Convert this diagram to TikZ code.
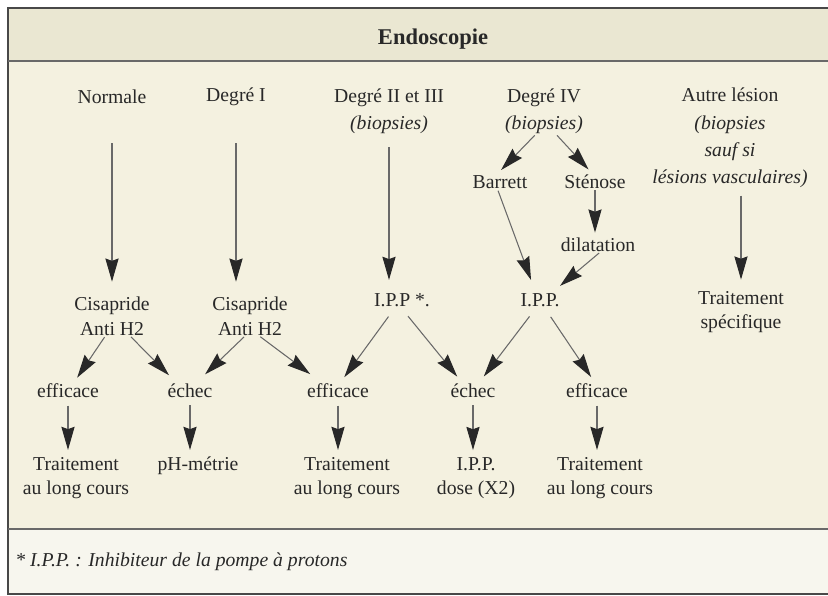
\documentclass[tikz,border=0pt]{standalone}
\usepackage{fontspec}
\setmainfont{Liberation Serif}
\usetikzlibrary{arrows.meta}

\definecolor{papier}{RGB}{244,241,224}
\definecolor{bandeau}{RGB}{234,231,210}
\definecolor{pied}{RGB}{247,246,238}
\definecolor{encre}{RGB}{40,40,40}
\definecolor{gristrait}{RGB}{105,105,105}

\begin{document}
\begin{tikzpicture}[x=0.025cm,y=-0.025cm,
  txt/.style={inner sep=0pt,align=center,text=encre,font=\fontsize{14}{17.5}\selectfont},
  fl/.style={draw=gristrait,line width=0.75pt,-{Stealth[length=0.58cm,width=0.33cm,inset=0.06cm,color=encre]}}]
\useasboundingbox (0,0) rectangle (828,596);
\fill[white] (0,0) rectangle (828,596);
\fill[papier] (8,8) rectangle (828,594);
\fill[bandeau] (8,8) rectangle (828,61);
\fill[pied] (8,529) rectangle (828,594);
\draw[encre!85,line width=1.6pt] (828,8) -- (8,8) -- (8,594) -- (828,594);
\draw[gristrait,line width=1pt] (8,61) -- (828,61);
\draw[gristrait,line width=1pt] (8,529) -- (828,529);
\node[txt,font=\fontsize{16}{19}\selectfont\bfseries] (titre) at (433,39) {Endoscopie};
\node[txt] (normale) at (112,97) {Normale};
\node[txt] (degre1) at (236,97) {Degré I};
\node[txt] (degre23) at (389,111) {Degré II et III\\[2pt] \textit{(biopsies)}};
\node[txt] (degre4) at (544,111) {Degré IV\\[2pt] \textit{(biopsies)}};
\node[txt] (autre) at (730,138) {Autre lésion\\[2pt] \textit{(biopsies}\\[2pt] \textit{sauf si}\\[2pt] \textit{lésions vasculaires)}};
\node[txt] (barrett) at (500,182) {Barrett};
\node[txt] (stenose) at (595,182) {Sténose};
\node[txt] (dilatation) at (598,245) {dilatation};
\node[txt] (cisa1) at (112,316) {Cisapride\\ Anti H2};
\node[txt] (cisa2) at (250,316) {Cisapride\\ Anti H2};
\node[txt] (ippa) at (402,300) {I.P.P *.};
\node[txt] (ippb) at (540,300) {I.P.P.};
\node[txt] (specif) at (741,312) {Traitement\\ spécifique};
\node[txt] (eff1) at (68,391) {efficace};
\node[txt] (ech1) at (190,391) {échec};
\node[txt] (eff2) at (338,391) {efficace};
\node[txt] (ech2) at (473,391) {échec};
\node[txt] (eff3) at (597,391) {efficace};
\node[txt] (trait1) at (76,478) {Traitement\\ au long cours};
\node[txt] (phm) at (198,466) {pH-métrie};
\node[txt] (trait2) at (347,478) {Traitement\\ au long cours};
\node[txt] (dose) at (476,478) {I.P.P.\\ dose (X2)};
\node[txt] (trait3) at (600,478) {Traitement\\ au long cours};
\node[txt,anchor=west,font=\fontsize{14}{17}\selectfont\itshape] (note) at (15,562) {* I.P.P. : Inhibiteur de la pompe à protons};
\draw[fl,shorten <=0.98cm,shorten >=0.37cm] (normale.south) -- (normale.south |- cisa1.north);
\draw[fl,shorten <=0.93cm,shorten >=0.37cm] (degre1.south) -- (degre1.south |- cisa2.north);
\draw[fl,shorten <=0.33cm,shorten >=0.33cm] (degre23.south) -- (degre23.south |- ippa.north);
\draw[fl,shorten <=0.18cm,shorten >=0.28cm] (autre.south -| specif.north) -- (specif.north);
\draw[fl,shorten <=0.05cm,shorten >=0.18cm] (degre4.-109) -- (barrett.120);
\draw[fl,shorten <=0.05cm,shorten >=0.18cm] (degre4.-63) -- (stenose.102);
\draw[fl,shorten <=0.03cm,shorten >=0.13cm] (stenose.south) -- (stenose.south |- dilatation.north);
\draw[fl,shorten <=0.05cm,shorten >=0.35cm] (barrett.-111) -- (ippb.121);
\draw[fl,shorten <=0.03cm,shorten >=0.28cm] (dilatation.-74) -- (ippb.31);
\draw[fl,shorten <=0.05cm,shorten >=0.18cm] (cisa1.252) -- (eff1.55);
\draw[fl,shorten <=0.05cm,shorten >=0.3cm] (cisa1.-48) -- (ech1.150);
\draw[fl,shorten <=0.05cm,shorten >=0.34cm] (cisa2.257) -- (ech1.54);
\draw[fl,shorten <=0.05cm,shorten >=0.4cm] (cisa2.-66) -- (eff2.154);
\draw[fl,shorten <=0.3cm,shorten >=0.2cm] (ippa.-133) -- (eff2.78);
\draw[fl,shorten <=0.3cm,shorten >=0.23cm] (ippa.-103) -- (ech2.144);
\draw[fl,shorten <=0.3cm,shorten >=0.23cm] (ippb.-115) -- (ech2.54);
\draw[fl,shorten <=0.3cm,shorten >=0.2cm] (ippb.-60) -- (eff3.101);
\foreach \a/\b in {eff1/trait1,ech1/phm,eff2/trait2,ech2/dose,eff3/trait3}
  \draw[fl,shorten <=0.18cm,shorten >=0.17cm] (\a.south) -- (\a.south |- \b.north);
\end{tikzpicture}
\end{document}
